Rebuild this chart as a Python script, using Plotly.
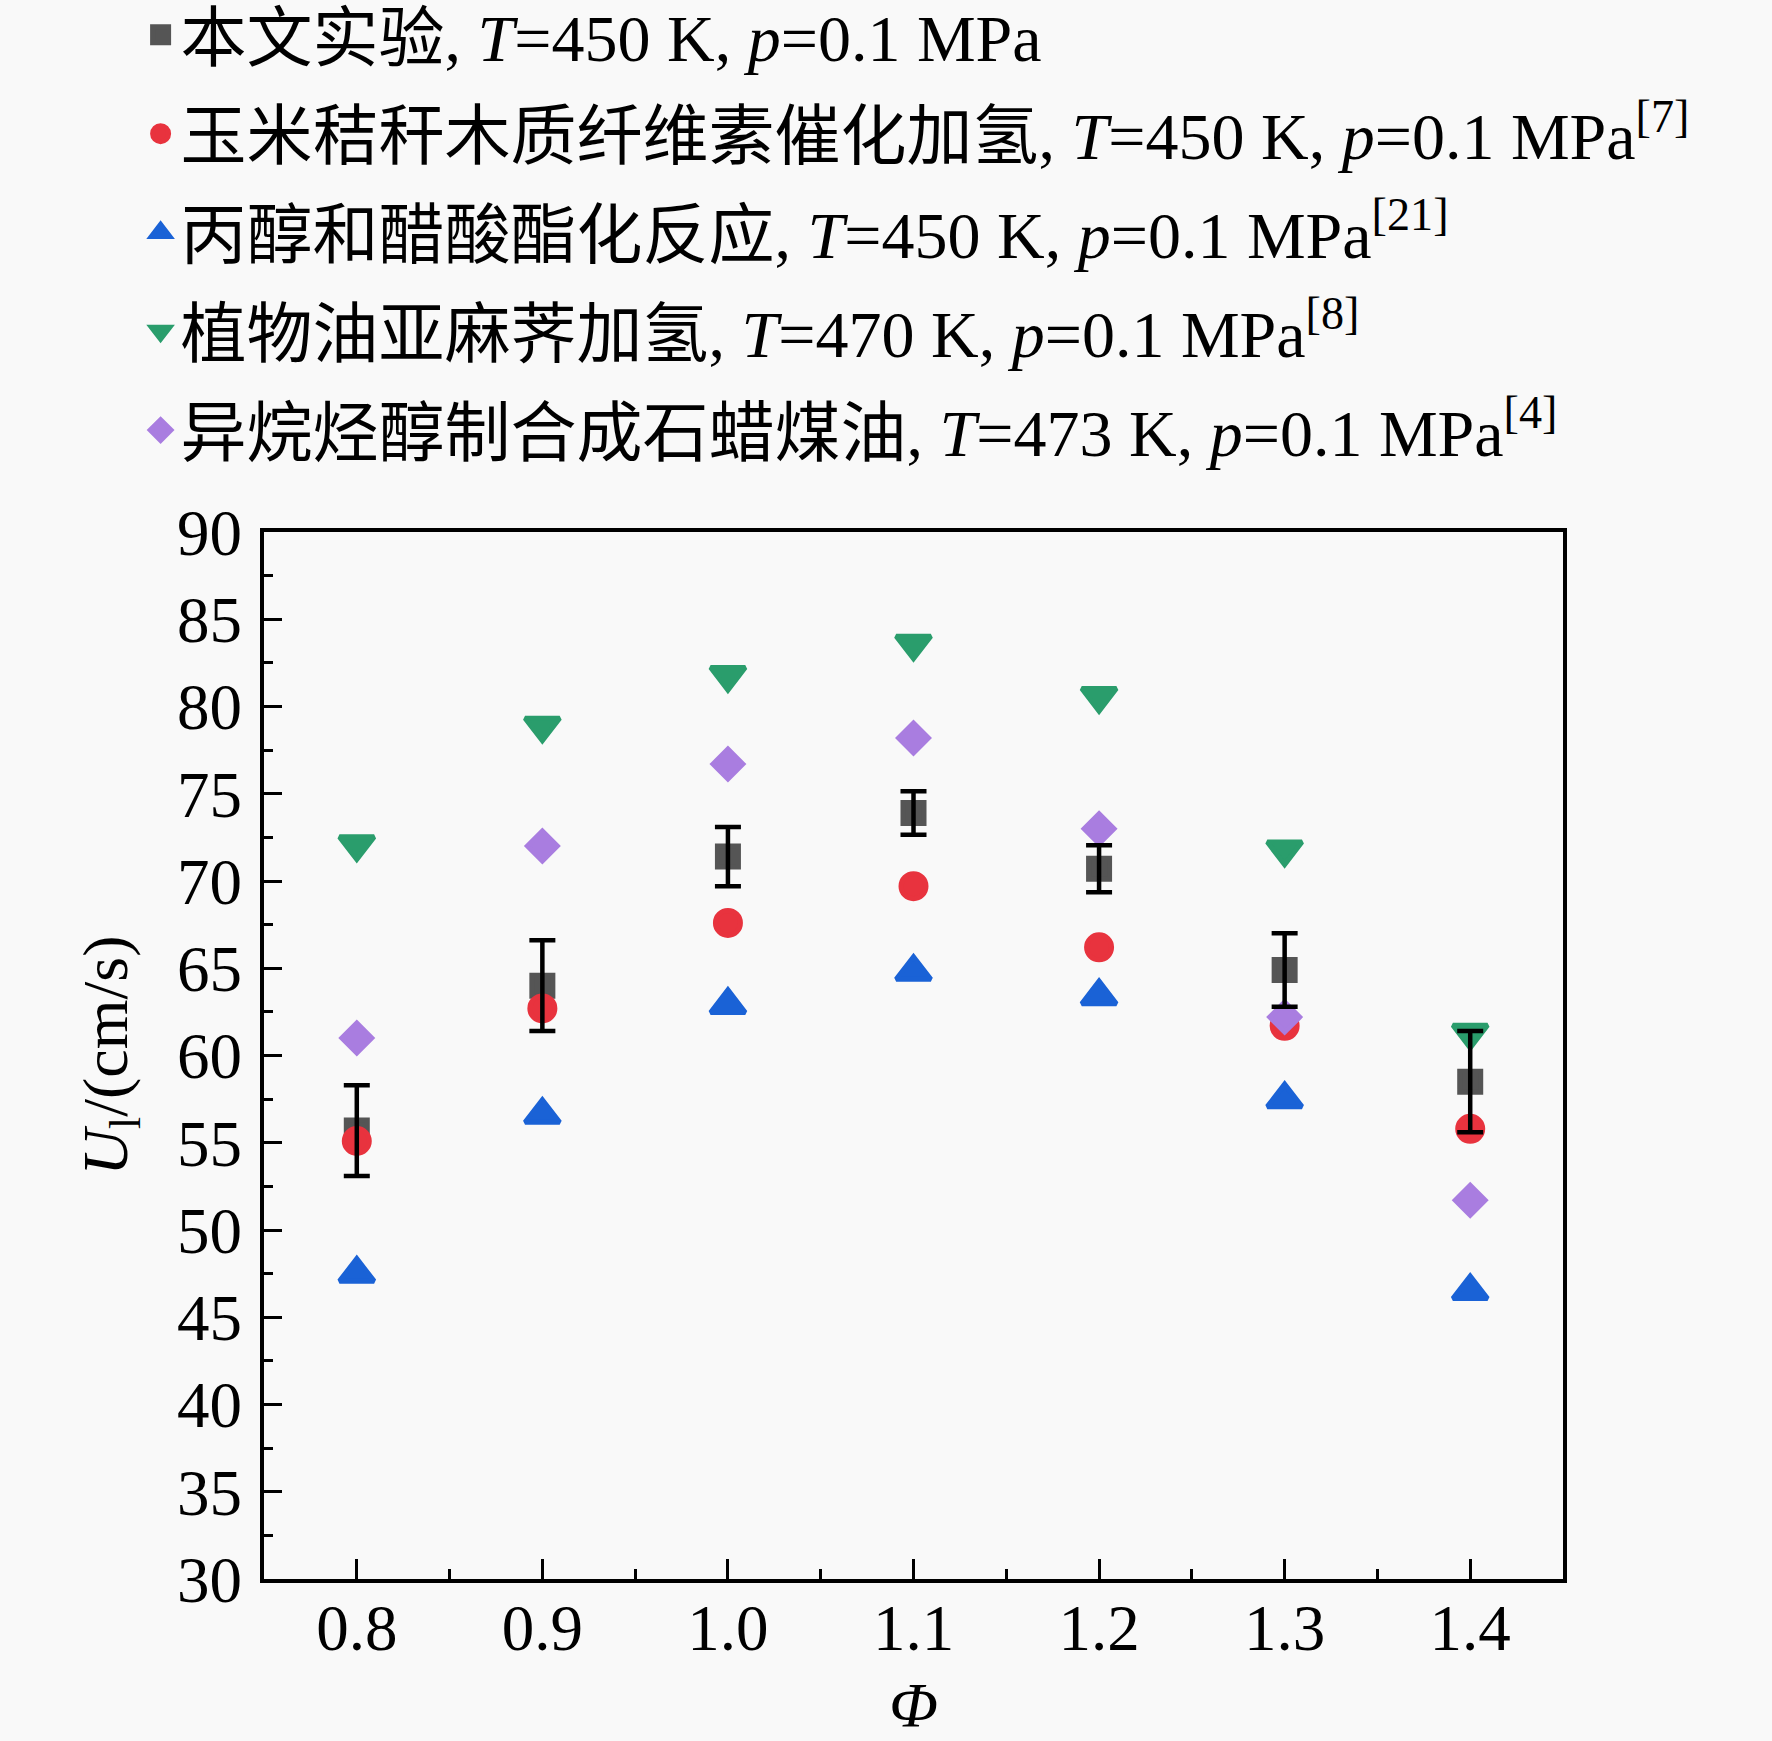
import plotly.graph_objs as go

# equivalence ratio
phi = [0.8, 0.9, 1.0, 1.1, 1.2, 1.3, 1.4]

# laminar burning velocity, cm/s
u_exp = [55.7, 64.0, 71.4, 73.9, 70.7, 64.9, 58.5]
u_exp_err = [2.6, 2.6, 1.7, 1.25, 1.35, 2.1, 2.9]
u_corn = [55.1, 62.7, 67.6, 69.7, 66.2, 61.7, 55.8]
u_propanol = [47.5, 56.6, 62.9, 64.8, 63.4, 57.5, 46.5]
u_vegoil = [72.1, 78.9, 81.8, 83.6, 80.6, 71.8, 61.3]
u_isoalk = [61.0, 72.0, 76.7, 78.2, 73.0, 62.2, 51.7]

names = [
    "本文实验, <i>T</i>=450 K, <i>p</i>=0.1 MPa",
    "玉米秸秆木质纤维素催化加氢, <i>T</i>=450 K, <i>p</i>=0.1 MPa<sup>[7]</sup>",
    "丙醇和醋酸酯化反应, <i>T</i>=450 K, <i>p</i>=0.1 MPa<sup>[21]</sup>",
    "植物油亚麻荠加氢, <i>T</i>=470 K, <i>p</i>=0.1 MPa<sup>[8]</sup>",
    "异烷烃醇制合成石蜡煤油, <i>T</i>=473 K, <i>p</i>=0.1 MPa<sup>[4]</sup>",
]

FONT = "Liberation Serif, Times New Roman, Noto Sans CJK SC, serif"
LW = 5  # marker outline, same colour as fill (makes legend symbols larger)


def mk(symbol, size, color):
    return dict(symbol=symbol, size=size, color=color,
                line=dict(width=LW, color=color))


traces = [
    go.Scatter(x=phi, y=u_exp, mode="markers", name=names[0], legendgroup="a",
               marker=mk("square", 21, "#555555")),
    go.Scatter(x=phi, y=u_corn, mode="markers", name=names[1], legendgroup="b",
               marker=mk("circle", 25, "#e8333e")),
    go.Scatter(x=phi, y=u_propanol, mode="markers", name=names[2], legendgroup="c",
               marker=mk("triangle-up", 30, "#1a62d6")),
    go.Scatter(x=phi, y=u_vegoil, mode="markers", name=names[3], legendgroup="d",
               marker=mk("triangle-down", 30, "#2a9d6c")),
    go.Scatter(x=phi, y=u_isoalk, mode="markers", name=names[4], legendgroup="e",
               marker=mk("diamond", 23, "#a97de0")),
    # error bars of the experiment drawn last so they sit on top
    go.Scatter(x=phi, y=u_exp, mode="markers", showlegend=False,
               marker=dict(size=1, opacity=0),
               error_y=dict(type="data", array=u_exp_err, visible=True,
                            color="black", thickness=4.5, width=13)),
]

axis_common = dict(
    showline=True, linecolor="black", linewidth=4, mirror=True,
    ticks="inside", tickcolor="black", tickwidth=3,
    showgrid=False, zeroline=False, automargin=False,
    tickfont=dict(family=FONT, size=65, color="black"),
)

layout = go.Layout(
    template="none",
    width=1772, height=1741,
    margin=dict(l=264, r=209, t=532, b=162, autoexpand=False),
    paper_bgcolor="#f9f9f9", plot_bgcolor="#f9f9f9",
    font=dict(family=FONT, size=64, color="black"),
    xaxis=dict(
        range=[0.75, 1.45], tickvals=phi, ticktext=["%.1f" % v for v in phi],
        ticklen=20, ticklabelstandoff=-11,
        minor=dict(dtick=0.05, tick0=0.75, ticks="inside", ticklen=10,
                   tickwidth=3, tickcolor="black"),
        title=dict(text="<i>Φ</i>", standoff=36,
                   font=dict(family=FONT, size=64)),
        **axis_common,
    ),
    yaxis=dict(
        range=[30, 90], dtick=5, tick0=30,
        ticklen=18, ticklabelstandoff=5,
        minor=dict(dtick=2.5, ticks="inside", ticklen=9,
                   tickwidth=3, tickcolor="black"),
        title=dict(text="<i>U</i><sub>l</sub>/(cm/s)", standoff=30,
                   font=dict(family=FONT, size=64)),
        **axis_common,
    ),
    legend=dict(
        x=-0.095, y=1.522, xanchor="left", yanchor="top",
        traceorder="grouped", tracegroupgap=10,
        bgcolor="rgba(0,0,0,0)", borderwidth=0,
        font=dict(family=FONT, size=66, color="black"),
    ),
    showlegend=True,
)

fig = go.Figure(data=traces, layout=layout)
fig.write_html("out.html", config={"displayModeBar": False},
               post_script="document.body.style.margin='0';")
